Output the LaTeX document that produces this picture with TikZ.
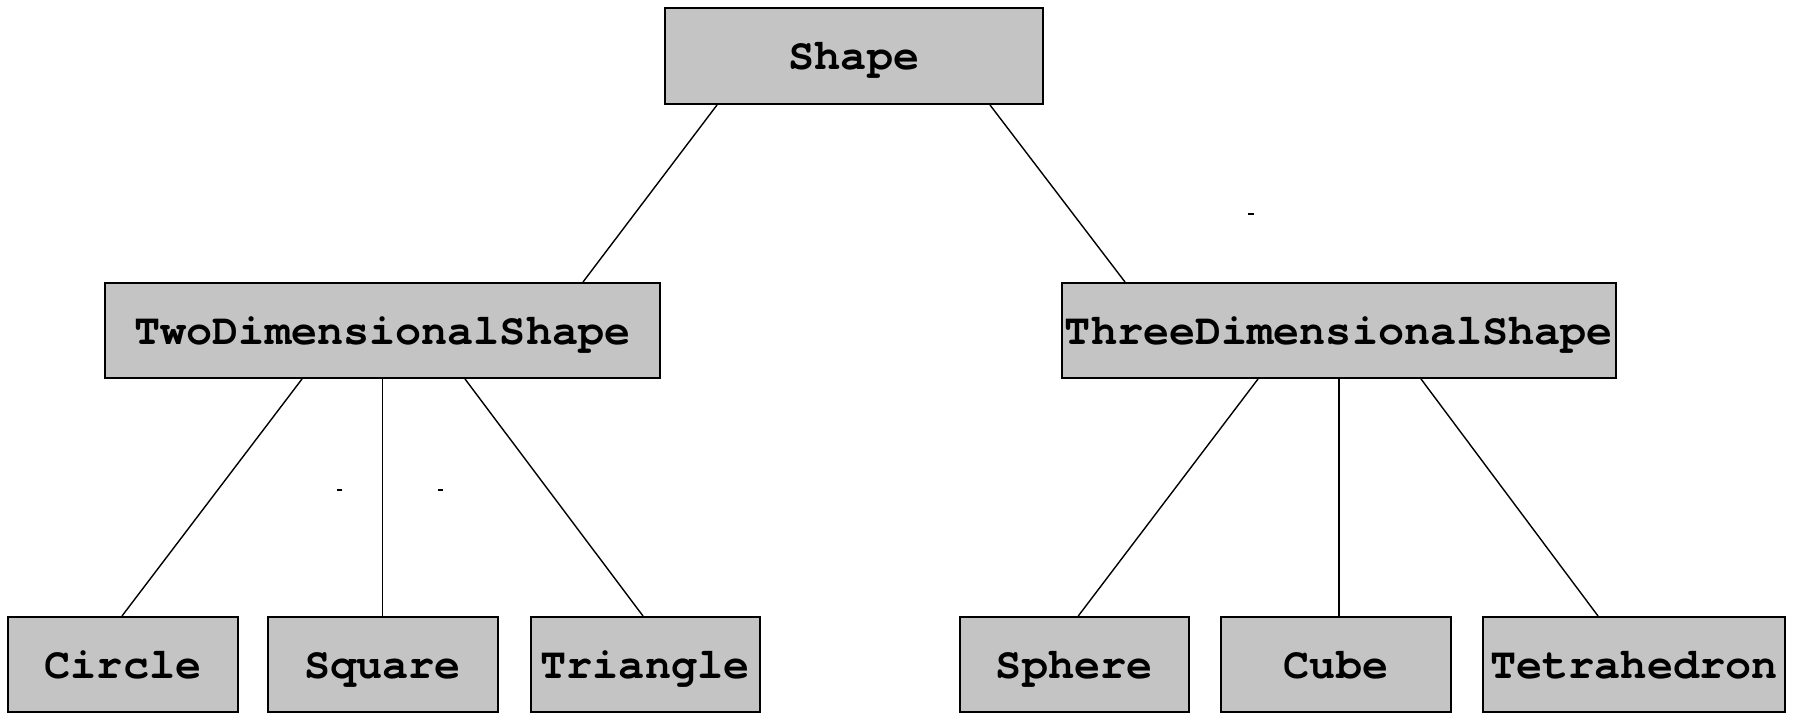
\documentclass[tikz,border=0pt]{standalone}
\usepackage{fontspec}
\setmonofont{TeX Gyre Cursor}
\definecolor{boxgray}{RGB}{196,196,196}
\begin{document}
\begin{tikzpicture}[x=1pt,y=-1pt,
  cls/.style={draw=black,fill=boxgray,line width=2pt,inner sep=0pt,
    minimum height=95pt,anchor=center,text height=28pt,text depth=0pt,
    font=\fontsize{43.5}{52}\selectfont\ttfamily\bfseries},
  link/.style={draw=black,line width=1.4pt},
  tick/.style={fill=black}]
\useasboundingbox (0,0) rectangle (1793,714);
\node[cls,minimum width=378pt,minimum height=96pt] (shape) at (854,56) {Shape};
\node[cls,minimum width=555pt] (two) at (382.5,330.5) {TwoDimensionalShape};
\node[cls,minimum width=554pt] (three) at (1339,330.5) {ThreeDimensionalShape};
\node[cls,minimum width=230pt] (circle) at (123,664.5) {Circle};
\node[cls,minimum width=230pt] (square) at (382.5,664.5) {Square};
\node[cls,minimum width=229pt] (triangle) at (645,664.5) {Triangle};
\node[cls,minimum width=229.5pt] (sphere) at (1074.25,664.5) {Sphere};
\node[cls,minimum width=230pt] (cube) at (1336,664.5) {Cube};
\node[cls,minimum width=302pt] (tetra) at (1634,664.5) {Tetrahedron};
\draw[link] ([xshift=-137pt]shape.south) -- ([xshift=200.5pt]two.north);
\draw[link] ([xshift=136pt]shape.south) -- ([xshift=-214pt]three.north);
\draw[link] ([xshift=-80.5pt]two.south) -- ([xshift=-1pt]circle.north);
\draw[link] (two.south) -- (square.north);
\draw[link] ([xshift=82.5pt]two.south) -- ([xshift=-2pt]triangle.north);
\draw[link] ([xshift=-81pt]three.south) -- ([xshift=4pt]sphere.north);
\draw[link] (three.south) -- ([xshift=3pt]cube.north);
\draw[link] ([xshift=82pt]three.south) -- ([xshift=-36pt]tetra.north);
\coordinate (m1) at (339.5,489.5);
\coordinate (m2) at (440,489.5);
\coordinate (m3) at (1251,214);
\fill[tick] ([shift={(-2.5,-1)}]m1) rectangle ([shift={(2.5,1)}]m1);
\fill[tick] ([shift={(-2.5,-1)}]m2) rectangle ([shift={(2.5,1)}]m2);
\fill[tick] ([shift={(-3,-1)}]m3) rectangle ([shift={(3,1)}]m3);
\end{tikzpicture}
\end{document}
